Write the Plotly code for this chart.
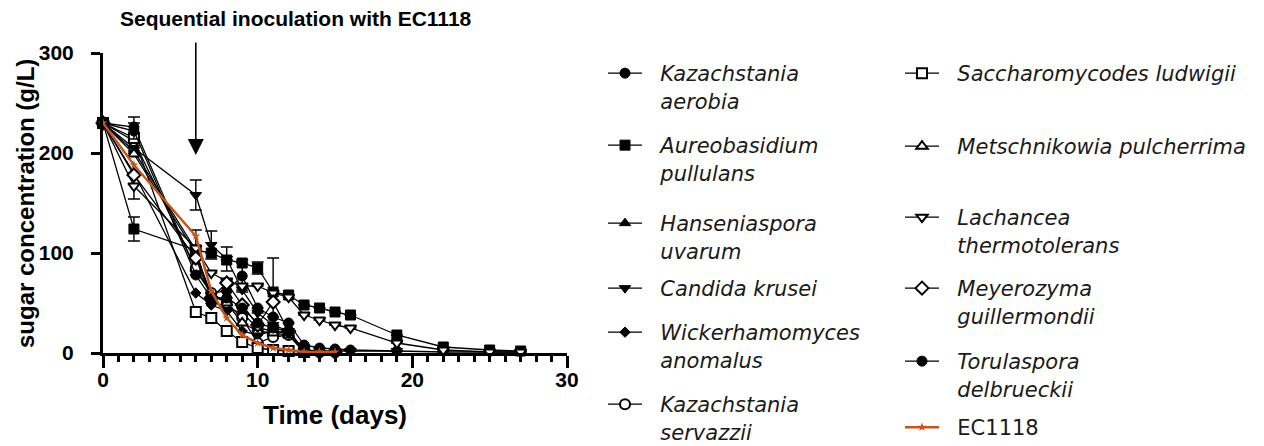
import plotly.graph_objects as go

W, H = 1264, 446

# ---- sampling days (days after inoculation) ----
days_std = [0, 2, 6, 7, 8, 9, 10, 11, 12, 13, 14, 15]
days_ext = [0, 2, 6, 7, 8, 9, 10, 11, 12, 13, 14, 15, 16, 19, 22, 25, 27]
days_ka = [0, 2, 6, 7, 8, 9, 10, 11, 12, 13, 14, 15, 16, 19]
days_sl = [0, 2, 6, 7, 8, 9, 10, 11, 12, 13]

# ---- sugar concentration (g/L) ----
k_aerobia = [230, 226, 82, 60, 62, 77, 45, 36, 30, 8, 5, 4, 3, 2]
a_pullulans = [230, 124, 103, 100, 93, 90, 85, 61, 58, 48, 45, 41, 38, 18, 6, 3, 2]
h_uvarum = [230, 202, 103, 52, 45, 40, 25, 22, 20, 1, 1, 1]
c_krusei = [230, 205, 158, 108, 94, 63, 40, 28, 22, 3, 2, 2, 2, 2, 1, 1, 1]
w_anomalus = [230, 180, 60, 48, 42, 22, 18, 22, 20, 1, 1, 1]
k_servazzii = [230, 212, 85, 60, 50, 35, 10, 16, 18, 1, 1, 1]
s_ludwigii = [230, 215, 41, 35, 22, 11, 5, 3, 2, 1]
m_pulcherrima = [230, 199, 100, 58, 50, 30, 22, 20, 18, 2, 1, 1]
l_thermotolerans = [230, 167, 105, 80, 72, 67, 67, 60, 56, 38, 33, 28, 25, 10, 3, 1, 1]
m_guillermondii = [230, 178, 95, 55, 70, 48, 28, 51, 22, 2, 1, 1]
t_delbrueckii = [230, 222, 78, 55, 55, 45, 30, 25, 22, 2, 1, 1]
ec1118 = [230, 188, 117, 62, 35, 18, 10, 5, 3, 1, 1, 1]

# ---- standard deviations (None = no bar drawn) ----
sd_k_aerobia = [None, 10, None, None, None, 16, None, None, None, None, None, None, None, None]
sd_a_pullulans = [None, 12, None, None, None, None, 6, 34, None, None, None, None, None, None, None, None, None]
sd_h_uvarum = [None, None, 20, None, None, None, None, None, None, None, None, None]
sd_c_krusei = [None, None, 15, 14, 12, None, None, None, None, None, None, None, None, None, None, None, None]
sd_l_thermotolerans = [None, 13, None, None, None, None, None, None, None, None, None, None, None, None, None, None, None]
sd_t_delbrueckii = [None, 8, None, None, None, None, None, None, None, None, None, None]

BLACK = "#000000"
ORANGE = "#c4561d"
BOLD = "Liberation Sans, Arial"

# name lines, days, values, sd, symbol, open?, size
series = [
    (["Kazachstania", "aerobia"], days_ka, k_aerobia, sd_k_aerobia, "circle", False, 10),
    (["Aureobasidium", "pullulans"], days_ext, a_pullulans, sd_a_pullulans, "square", False, 10),
    (["Hanseniaspora", "uvarum"], days_std, h_uvarum, sd_h_uvarum, "triangle-up", False, 10),
    (["Candida krusei"], days_ext, c_krusei, sd_c_krusei, "triangle-down", False, 10),
    (["Wickerhamomyces", "anomalus"], days_std, w_anomalus, None, "diamond", False, 8),
    (["Kazachstania", "servazzii"], days_std, k_servazzii, None, "circle", True, 10),
    (["Saccharomycodes ludwigii"], days_sl, s_ludwigii, None, "square", True, 10),
    (["Metschnikowia pulcherrima"], days_std, m_pulcherrima, None, "triangle-up", True, 10),
    (["Lachancea", "thermotolerans"], days_ext, l_thermotolerans, sd_l_thermotolerans, "triangle-down", True, 10),
    (["Meyerozyma", "guillermondii"], days_std, m_guillermondii, None, "diamond", True, 10),
    (["Torulaspora", "delbrueckii"], days_std, t_delbrueckii, sd_t_delbrueckii, "circle", False, 10),
]

# legend entry anchors in pixels: (left edge, top edge)
legend_px = [
    (603, 53), (603, 125), (603, 203), (603, 268), (603, 312), (603, 384),
    (900, 53), (900, 126), (900, 197), (900, 268), (900, 341), (900, 407),
]

INDENT = "\u00a0\u00a0"


def legend_label(lines):
    return "<br>".join(INDENT + s for s in lines)


def legend_key(i):
    return "legend" if i == 0 else f"legend{i + 1}"


def legend_box(i, italic=True):
    lx, ly = legend_px[i]
    return dict(
        x=lx / W, y=1 - ly / H, xanchor="left", yanchor="top",
        bgcolor="rgba(0,0,0,0)", borderwidth=0, itemwidth=34, valign="top",
        font=dict(family="DejaVu Sans", size=21, color="#1a1a1a",
                  style="italic" if italic else "normal"),
    )


fig = go.Figure()
legend_layout = {}

for i, (lines, d, v, sd, sym, hollow, size) in enumerate(series):
    err = None
    if sd is not None:
        err = dict(type="data", array=sd, symmetric=True, color=BLACK,
                   thickness=1.4, width=6, visible=True)
    fig.add_trace(go.Scatter(
        x=d, y=v, name=legend_label(lines), mode="lines+markers",
        line=dict(color=BLACK, width=1.3),
        marker=dict(symbol=sym, size=size,
                    color="white" if hollow else BLACK,
                    line=dict(color=BLACK, width=2 if hollow else 1)),
        error_y=err, cliponaxis=False, legend=legend_key(i),
    ))
    legend_layout[legend_key(i)] = legend_box(i)

# commercial reference strain
i_ec = len(series)
fig.add_trace(go.Scatter(
    x=days_std, y=ec1118, name=legend_label(["EC1118"]), mode="lines+markers",
    line=dict(color=ORANGE, width=2.5),
    marker=dict(symbol="star", size=7, color=ORANGE),
    cliponaxis=False, legend=legend_key(i_ec),
))
legend_layout[legend_key(i_ec)] = legend_box(i_ec, italic=False)

tick_font = dict(family=BOLD, size=21, color=BLACK, weight="bold")

fig.update_layout(
    width=W, height=H,
    margin=dict(l=0, r=0, t=0, b=0, autoexpand=False),
    paper_bgcolor="white", plot_bgcolor="white",
    showlegend=True,
    **legend_layout,
    xaxis=dict(
        domain=[103 / W, 567 / W], range=[0, 30],
        showline=True, linewidth=3, linecolor=BLACK,
        showgrid=False, zeroline=False,
        ticks="outside", ticklen=12, tickwidth=3, tickcolor=BLACK,
        tick0=0, dtick=10, tickfont=tick_font, ticklabelstandoff=-6,
        minor=dict(ticks="outside", ticklen=6, tickwidth=2.5, tickcolor=BLACK,
                   tick0=0, dtick=1, showgrid=False),
        title=dict(text="Time (days)", standoff=16,
                   font=dict(family=BOLD, size=26, color=BLACK, weight="bold")),
    ),
    yaxis=dict(
        domain=[1 - 353 / H, 1 - 53 / H], range=[0, 300],
        showline=True, linewidth=3, linecolor=BLACK,
        showgrid=False, zeroline=False,
        ticks="outside", ticklen=9, tickwidth=3, tickcolor=BLACK,
        tick0=0, dtick=100, tickfont=tick_font, ticklabelstandoff=13,
    ),
    annotations=[
        dict(text="sugar concentration (g/L)", xref="paper", yref="paper",
             x=25 / W, y=1 - 204 / H, xanchor="center", yanchor="middle",
             textangle=-90, showarrow=False,
             font=dict(family=BOLD, size=24, color=BLACK, weight="bold")),
        dict(text="Sequential inoculation with EC1118", xref="paper", yref="paper",
             x=296 / W, y=1 - 18 / H, xanchor="center", yanchor="middle",
             showarrow=False,
             font=dict(family=BOLD, size=21, color=BLACK, weight="bold")),
        dict(text="", x=6, y=198, xref="x", yref="y", ax=6, ay=312, axref="x", ayref="y",
             showarrow=True, arrowhead=2, arrowsize=2, arrowwidth=1.6, arrowcolor=BLACK,
             standoff=0),
    ],
)

fig.write_html("out.html")
